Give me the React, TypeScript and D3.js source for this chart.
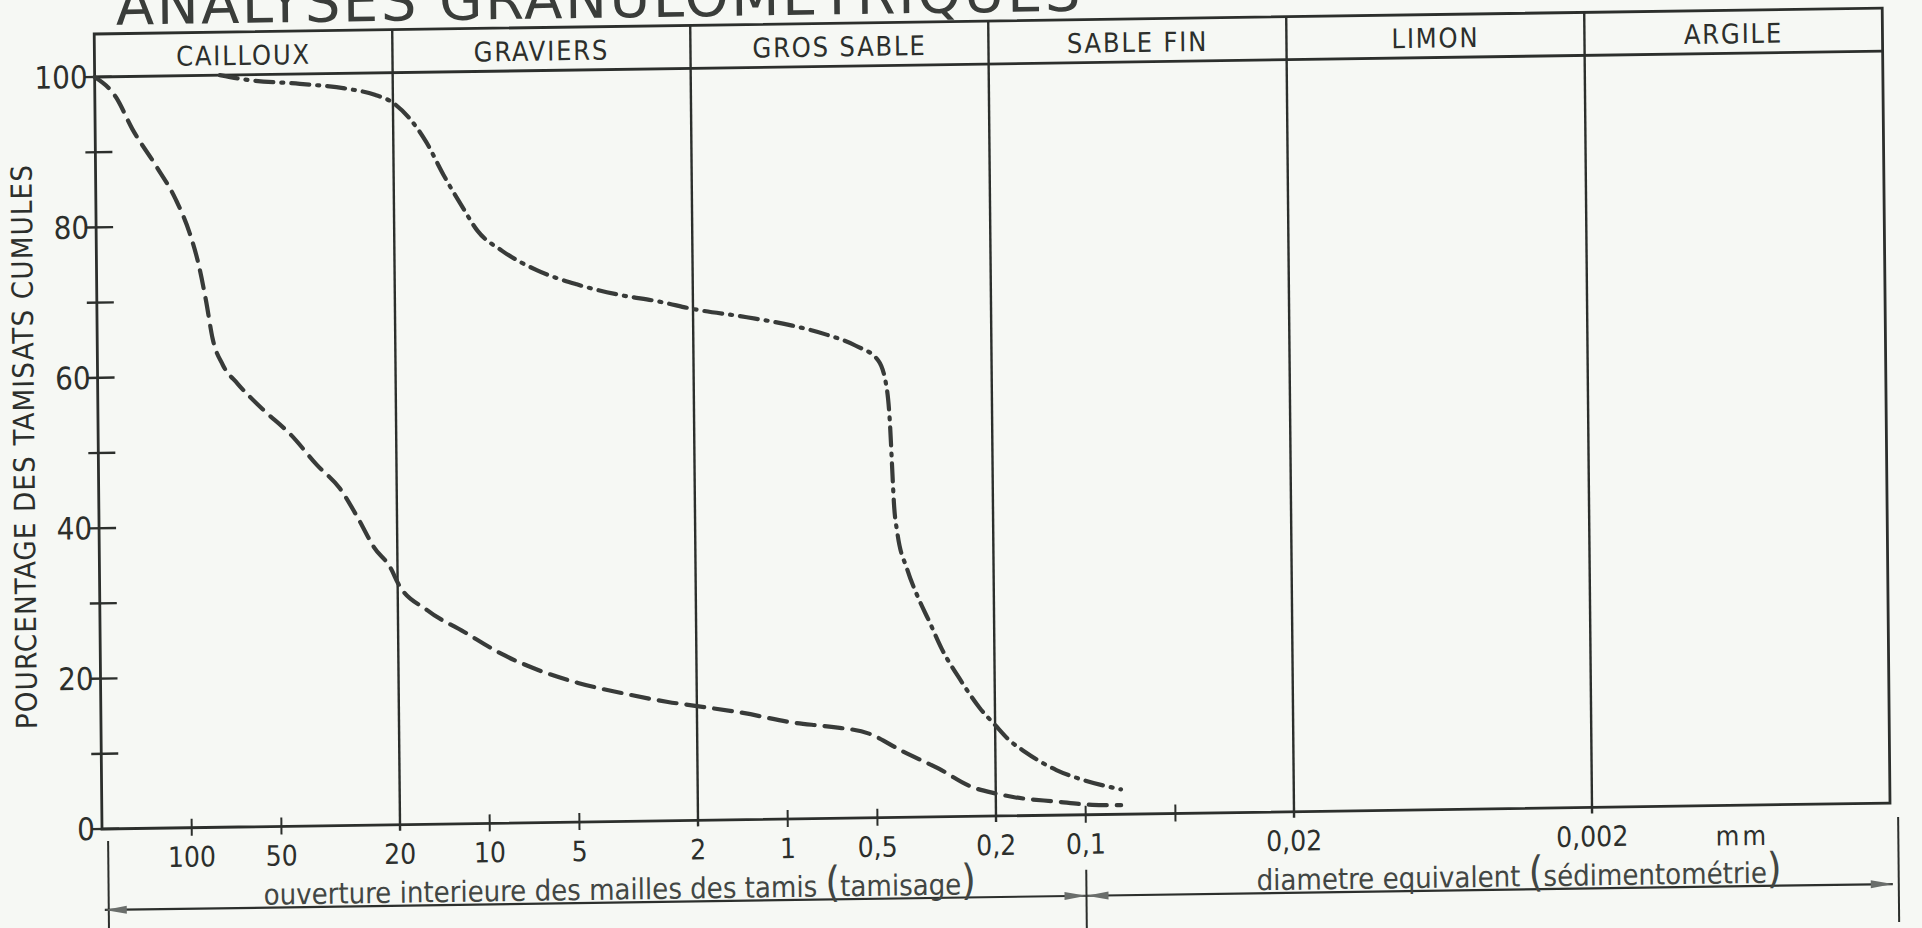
import * as d3 from 'd3';

// Granulometric analysis: cumulative % passing vs. grain size (mm), log scale decreasing to the right

const SECTIONS = ['CAILLOUX', 'GRAVIERS', 'GROS SABLE', 'SABLE FIN', 'LIMON', 'ARGILE'];
const BOUNDS = [200, 20, 2, 0.2, 0.02, 0.002, 0.0002];
const MINOR_X_TICKS = [100, 50, 10, 5, 1, 0.5, 0.1, 0.05];
const X_LABEL_VALUES = [100, 50, 20, 10, 5, 2, 1, 0.5, 0.2, 0.1, 0.02, 0.002];
const X_LABEL_TEXT = ['100', '50', '20', '10', '5', '2', '1', '0,5', '0,2', '0,1', '0,02', '0,002'];
const Y_TICKS = [0, 10, 20, 30, 40, 50, 60, 70, 80, 90, 100];
const Y_LABELS = [0, 20, 40, 60, 80, 100];

// dashed curve
const SIZES_A = [200, 170, 150, 125, 108, 97, 91, 86, 82, 76, 68, 56, 45, 37, 31, 27, 24, 21, 20, 16, 12, 9, 7, 5, 3.5, 2.5, 2, 1.4, 0.95, 0.72, 0.53, 0.41, 0.31, 0.24, 0.2, 0.175, 0.125, 0.095, 0.076];
const PCT_A = [100, 97.3, 93, 88, 83.6, 79, 75, 70, 65, 61.5, 59, 55.5, 52, 48, 44.8, 40.8, 37, 34, 32.2, 28.5, 25.5, 22.5, 20.5, 18.5, 17, 15.8, 15.2, 14.2, 12.8, 12.2, 11.2, 8.8, 6.4, 3.9, 3.0, 2.5, 1.8, 1.3, 1.2];

// dash-dot curve
const SIZES_B = [76, 61, 41, 29, 23, 20, 17.7, 15.5, 13.6, 11.9, 10.5, 8.7, 6.7, 4.9, 3.6, 2.56, 2, 1.32, 0.93, 0.71, 0.57, 0.48, 0.45, 0.44, 0.435, 0.43, 0.42, 0.39, 0.36, 0.33, 0.3, 0.26, 0.225, 0.2, 0.181, 0.158, 0.125, 0.103, 0.076];
const PCT_B = [100, 99.3, 98.7, 98, 97.1, 96, 94, 90.7, 86.3, 82.3, 78.8, 76.1, 73.5, 71.5, 70.1, 69, 68, 66.8, 65.6, 64.3, 62.8, 60.8, 57, 52, 47, 42, 38, 33, 29.3, 26, 22.3, 18.1, 14.4, 12.1, 10.2, 8.4, 6.0, 4.7, 3.3];

const W = 1922;
const H = 928;
const LEFT = 102;
const RIGHT = 1890;
const TOP = 34; // top of header band
const Y100 = 77;
const Y0 = 829;
const ARROW_Y = 910;

// the scanned sheet is slightly skewed: horizontals rise to the right, verticals lean left
const SLOPE_H = -0.0145;
const SLOPE_V = 0.0098;
const SKEW = `matrix(1, ${SLOPE_H}, ${SLOPE_V}, 1, ${-SLOPE_V * Y0}, ${-SLOPE_H * LEFT})`;

const INK = '#2c2f2c';
const FONT = "'DejaVu Sans Condensed', 'Liberation Sans Narrow', 'DejaVu Sans', sans-serif";

export default function App() {
  const x = d3.scaleLog().domain([200, 0.0002]).range([LEFT, RIGHT]);
  const y = d3.scaleLinear().domain([0, 100]).range([Y0, Y100]);

  const line = d3.line<[number, number]>()
    .x(d => x(d[0]))
    .y(d => y(d[1]))
    .curve(d3.curveMonotoneX);

  const ptsA = SIZES_A.map((s, i) => [s, PCT_A[i]] as [number, number]);
  const ptsB = SIZES_B.map((s, i) => [s, PCT_B[i]] as [number, number]);

  const x01 = x(0.1);

  const arrowHead = (tipX: number, dir: number) =>
    `M${tipX},${ARROW_Y} L${tipX - dir * 22},${ARROW_Y - 4} L${tipX - dir * 22},${ARROW_Y + 4} Z`;

  return (
    <svg width={W} height={H} style={{ position: 'absolute', left: 0, top: 0, background: '#f6f8f4' }}>
      <rect x={0} y={0} width={W} height={H} fill="#f6f8f4" />
      <g transform={SKEW} fontFamily={FONT} fill={INK}>
        {/* title, cut at top by the scan */}
        <text x={124} y={25} fontSize={56} letterSpacing={2.5} fontFamily="'DejaVu Sans', sans-serif" fill="#3a3d3a">
          ANALYSES  GRANULOMETRIQUES
        </text>

        {/* frame */}
        <rect x={LEFT} y={TOP} width={RIGHT - LEFT} height={Y0 - TOP} fill="none" stroke={INK} strokeWidth={2.8} />
        <line x1={LEFT} x2={RIGHT} y1={Y100} y2={Y100} stroke={INK} strokeWidth={2.8} />
        {BOUNDS.slice(1, -1).map(b => (
          <line key={b} x1={x(b)} x2={x(b)} y1={TOP} y2={Y0 + 6} stroke={INK} strokeWidth={2.4} />
        ))}

        {/* section names */}
        {SECTIONS.map((s, i) => (
          <text key={s} x={(x(BOUNDS[i]) + x(BOUNDS[i + 1])) / 2} y={Y100 - 10} fontSize={27}
            letterSpacing={1.8} textAnchor="middle">{s}</text>
        ))}

        {/* y axis ticks */}
        {Y_TICKS.map(t => (
          <line key={t} x1={LEFT - 10} x2={LEFT + 17} y1={y(t)} y2={y(t)} stroke={INK} strokeWidth={2.4} />
        ))}
        {Y_LABELS.map(t => (
          <text key={t} x={LEFT - 7} y={y(t) + 11} fontSize={31} textAnchor="end">{t}</text>
        ))}
        <text transform={`translate(38, 446) rotate(-90)`} textAnchor="middle" fontSize={29}
          textLength={564} lengthAdjust="spacing">POURCENTAGE DES TAMISATS CUMULES</text>

        {/* x axis ticks */}
        {MINOR_X_TICKS.map(t => (
          <line key={t} x1={x(t)} x2={x(t)} y1={Y0 - 9} y2={Y0 + 8} stroke={INK} strokeWidth={2} />
        ))}
        {X_LABEL_VALUES.map((v, i) => (
          <text key={v} x={x(v)} y={Y0 + 39} fontSize={28} textAnchor="middle">{X_LABEL_TEXT[i]}</text>
        ))}
        <text x={x(0.002) + 150} y={Y0 + 40} fontSize={27} textAnchor="middle" letterSpacing={3}>mm</text>

        {/* curves */}
        <path d={line(ptsA) ?? ''} fill="none" stroke="#383b39" strokeWidth={4.2}
          strokeDasharray="18,10" strokeLinecap="round" />
        <path d={line(ptsB) ?? ''} fill="none" stroke="#383b39" strokeWidth={4.2}
          strokeDasharray="18,8,2,8" strokeLinecap="round" />

        {/* method annotation */}
        <line x1={LEFT + 6} x2={LEFT + 6} y1={Y0 + 12} y2={H + 20} stroke={INK} strokeWidth={2} />
        <line x1={x01} x2={x01} y1={ARROW_Y - 26} y2={H + 20} stroke={INK} strokeWidth={2} />
        <line x1={RIGHT + 8} x2={RIGHT + 8} y1={Y0 + 14} y2={H + 20} stroke={INK} strokeWidth={2} />
        <line x1={LEFT + 2} x2={x01} y1={ARROW_Y} y2={ARROW_Y} stroke={INK} strokeWidth={2.2} />
        <line x1={x01} x2={RIGHT + 2} y1={ARROW_Y} y2={ARROW_Y} stroke={INK} strokeWidth={2.2} />
        <path d={arrowHead(LEFT + 2, -1)} fill="#6a6e6b" />
        <path d={arrowHead(x01, 1)} fill="#6a6e6b" />
        <path d={arrowHead(x01, -1)} fill="#6a6e6b" />
        <path d={arrowHead(RIGHT + 2, 1)} fill="#6a6e6b" />

        <text x={263} y={ARROW_Y - 3} fontSize={29} fill="#424643">
          ouverture interieure des mailles des tamis <tspan fontSize={42}>(</tspan>tamisage<tspan fontSize={42}>)</tspan>
        </text>
        <text x={1256} y={ARROW_Y - 3} fontSize={29} fill="#424643">
          diametre equivalent <tspan fontSize={42}>(</tspan>sédimentométrie<tspan fontSize={42}>)</tspan>
        </text>
      </g>
    </svg>
  );
}
